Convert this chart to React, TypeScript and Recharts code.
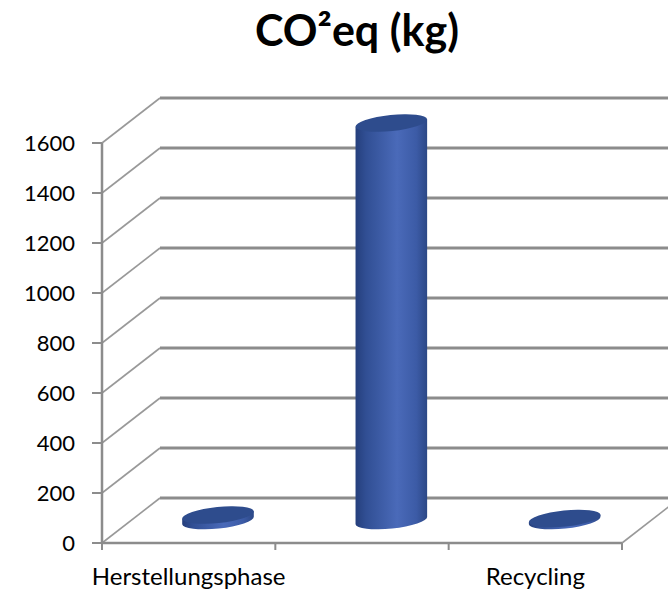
import { BarChart, Bar, XAxis, YAxis, CartesianGrid } from 'recharts';

const categories = ['Herstellungsphase', 'Nutzungsphase', 'Recycling'];
const co2Values = [22, 1590, 8];
const yTicks = [0, 200, 400, 600, 800, 1000, 1200, 1400, 1600];

const data = categories.map((name, i) => ({ name, co2: co2Values[i] }));

const WIDTH = 668;
const HEIGHT = 591;
const Y_AXIS_W = 60;
const X_AXIS_H = 40;
const MARGIN = { top: 143, right: 46, bottom: 8, left: 42 };
const PLOT_BOTTOM = HEIGHT - MARGIN.bottom - X_AXIS_H;
const BAND = (WIDTH - MARGIN.left - Y_AXIS_W - MARGIN.right) / categories.length;

// offset from the front plane to the back wall of the 3D box
const DEPTH_X = 58;
const DEPTH_Y = -45;
const TILT = -6;

const FONT = 'Lato, "Open Sans", sans-serif';
const GRID = '#8c8c8c';

// each value line becomes a diagonal on the side wall plus a line on the back wall
const WallLine = (props: any) => {
  const { x1, y1, x2 } = props;
  const bx = x1 + DEPTH_X;
  const by = y1 + DEPTH_Y;
  const isFloor = Math.abs(y1 - PLOT_BOTTOM) < 1;
  return (
    <g key={props.key}>
      <line x1={x1} y1={y1} x2={bx} y2={by} stroke="#999" strokeWidth={1.6} />
      <line x1={bx} y1={by} x2={x2 + DEPTH_X} y2={by} stroke={GRID} strokeWidth={3} />
      {isFloor && <line x1={x2} y1={y1} x2={x2 + DEPTH_X} y2={by} stroke="#999" strokeWidth={1.6} />}
    </g>
  );
};

const Cylinder = (props: any) => {
  const { x, y, width, height, index } = props;
  const rx = width / 2;
  const ry = 8;
  const cx = x + rx + DEPTH_X / 2;
  const top = y + DEPTH_Y / 2;
  const bottom = y + height + DEPTH_Y / 2;
  const rad = (TILT * Math.PI) / 180;
  const a = rx * Math.cos(rad);
  const s = -rx * Math.sin(rad);
  const gid = `cyl-side-${index}`;
  const side = `M${cx - a},${top + s} L${cx - a},${bottom + s} A${rx},${ry} ${TILT} 0 0 ${cx + a},${bottom - s} L${cx + a},${top - s} Z`;
  return (
    <g>
      <defs>
        <linearGradient id={gid} x1="0" y1="0" x2="1" y2="0">
          <stop offset="0%" stopColor="#253f7c" />
          <stop offset="15%" stopColor="#314f94" />
          <stop offset="58%" stopColor="#4a6ab9" />
          <stop offset="85%" stopColor="#3c5ba6" />
          <stop offset="100%" stopColor="#2c4886" />
        </linearGradient>
      </defs>
      <path d={side} fill={`url(#${gid})`} />
      <ellipse cx={cx} cy={top} rx={rx} ry={ry} fill="#2e4c8d" transform={`rotate(${TILT} ${cx} ${top})`} />
    </g>
  );
};

// boundary tick marks between categories; the middle label is left out like in Excel
const CategoryTick = (props: any) => {
  const { x, payload, index } = props;
  const last = index === categories.length - 1;
  return (
    <g>
      <line x1={x - BAND / 2} y1={PLOT_BOTTOM} x2={x - BAND / 2} y2={PLOT_BOTTOM + 7} stroke={GRID} strokeWidth={2} />
      {last && <line x1={x + BAND / 2} y1={PLOT_BOTTOM} x2={x + BAND / 2} y2={PLOT_BOTTOM + 7} stroke={GRID} strokeWidth={2} />}
      {index !== 1 && (
        <text x={x} y={585} textAnchor="middle" fontFamily={FONT} fontSize={24} fill="#000">
          {payload.value}
        </text>
      )}
    </g>
  );
};

const App = () => {
  return (
    <div style={{ position: 'absolute', left: 0, top: 0, width: WIDTH, height: HEIGHT, background: '#fff' }}>
      <svg width={WIDTH} height={80} style={{ position: 'absolute', left: 0, top: 0 }}>
        <text x={357} y={46} textAnchor="middle" fontFamily={FONT} fontWeight={700} fontSize={43} fill="#000">
          CO²eq (kg)
        </text>
      </svg>
      <div style={{ position: 'absolute', left: 0, top: 0 }}>
        <BarChart width={WIDTH} height={HEIGHT} data={data} margin={MARGIN}>
          <CartesianGrid vertical={false} horizontal={WallLine} />
          <XAxis
            dataKey="name"
            height={X_AXIS_H}
            interval={0}
            tickLine={false}
            axisLine={{ stroke: GRID, strokeWidth: 2.5 }}
            tick={CategoryTick}
          />
          <YAxis
            width={Y_AXIS_W}
            domain={[0, 1600]}
            ticks={yTicks}
            tickSize={10}
            tickMargin={17}
            axisLine={{ stroke: GRID, strokeWidth: 2.5 }}
            tickLine={{ stroke: GRID, strokeWidth: 2 }}
            tick={{ fill: '#000', fontSize: 22, fontFamily: FONT }}
          />
          <Bar dataKey="co2" barSize={72} fill="#3a59a3" shape={Cylinder} isAnimationActive={false} />
        </BarChart>
      </div>
    </div>
  );
};

export default App;
